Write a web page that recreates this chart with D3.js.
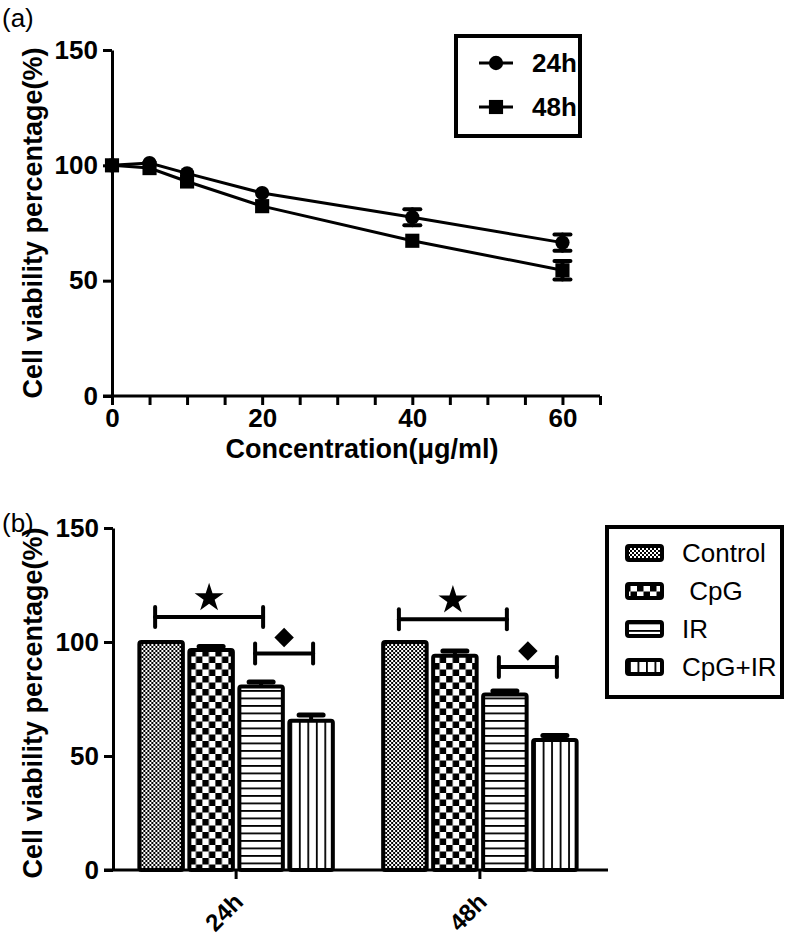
<!DOCTYPE html>
<html>
<head>
<meta charset="utf-8">
<script src="https://cdn.jsdelivr.net/npm/d3@7/dist/d3.min.js"></script>
<style>
  html, body { margin: 0; padding: 0; background: #fff; }
  svg text { font-family: "Liberation Sans", Arial, Helvetica, sans-serif; fill: #000; }
</style>
</head>
<body>
<svg id="chart" width="800" height="937"></svg>
<script>
// ---- panel (a): viability vs concentration ----
const conc   = [0, 5, 10, 20, 40, 60];
const via24  = [100, 101, 96.5, 88, 77.5, 66.5];
const err24  = [0.5, 1, 1, 1, 3.5, 3.5];
const via48  = [100, 98.8, 93, 82.3, 67.3, 54.5];
const err48  = [0.5, 1, 1, 1.5, 1.5, 4];
const seriesA = ['24h', '48h'];

// ---- panel (b): grouped bars ----
const timePoints = ['24h', '48h'];
const treatments = ['Control', 'CpG', 'IR', 'CpG+IR'];
const bars24 = [100, 96.5, 80.5, 65.5];
const errB24 = [0, 1.5, 2, 2.5];
const bars48 = [100, 94, 77, 57];
const errB48 = [0, 2, 1.5, 2];
// significance brackets (y level in data units)
const starLevel    = [111, 110];
const diamondLevel = [95, 89];

const yTicks = [0, 50, 100, 150];

const AX_W = 3;

const svg = d3.select('#chart');
const defs = svg.append('defs');

// fill patterns
function pattern(id, w, h, draw) {
  const p = defs.append('pattern')
    .attr('id', id)
    .attr('patternUnits', 'userSpaceOnUse')
    .attr('width', w).attr('height', h);
  p.append('rect').attr('width', w).attr('height', h).attr('fill', '#fff');
  draw(p);
}
pattern('pControl', 4, 4, p => {
  p.append('rect').attr('width', 2).attr('height', 2).attr('fill', '#000');
  p.append('rect').attr('x', 2).attr('y', 2).attr('width', 2).attr('height', 2).attr('fill', '#000');
});
pattern('pCpG', 13, 13, p => {
  p.append('rect').attr('width', 6.5).attr('height', 6.5).attr('fill', '#000');
  p.append('rect').attr('x', 6.5).attr('y', 6.5).attr('width', 6.5).attr('height', 6.5).attr('fill', '#000');
});
pattern('pIR', 10, 7.5, p => {
  p.append('rect').attr('y', 0).attr('width', 10).attr('height', 1.8).attr('fill', '#000');
});
pattern('pCpGIR', 8.5, 10, p => {
  p.append('rect').attr('x', 0).attr('width', 1.8).attr('height', 10).attr('fill', '#000');
});
const fills = ['url(#pControl)', 'url(#pCpG)', 'url(#pIR)', 'url(#pCpGIR)'];

function styleAxis(g, fontSize) {
  const fs = fontSize || 26;
  g.attr('font-size', fs).attr('font-family', null).attr('font-weight', 'bold');
  g.select('.domain').attr('stroke', '#000').attr('stroke-width', AX_W);
  g.selectAll('.tick line').attr('stroke', '#000').attr('stroke-width', AX_W);
  g.selectAll('.tick text')
    .attr('font-size', fs)
    .attr('font-weight', 'bold')
    .attr('fill', '#000');
}

// ============================================================
// (a) line chart
// ============================================================
const xA = d3.scaleLinear().domain([0, 65]).range([112, 600]);
const yA = d3.scaleLinear().domain([0, 150]).range([396, 50]);

svg.append('text').attr('x', 2).attr('y', 27)
  .attr('font-size', 26).text('(a)');

const gA = svg.append('g');

const yAxA = gA.append('g').attr('transform', `translate(${xA(0)},0)`)
  .call(d3.axisLeft(yA).tickValues(yTicks).tickSize(9).tickSizeOuter(0).tickPadding(5));
styleAxis(yAxA);

const xAxA = gA.append('g').attr('transform', `translate(0,${yA(0)})`)
  .call(d3.axisBottom(xA).tickValues(d3.range(0, 66, 5)).tickSize(9).tickSizeOuter(0).tickPadding(4)
    .tickFormat(d => d % 20 === 0 ? d : ''));
styleAxis(xAxA);
// extend x domain line to the left like the original
xAxA.select('.domain').attr('d', `M${xA(0) - 9},0H${xA(65)}`);

gA.append('text')
  .attr('transform', `translate(42,${(yA(0) + yA(150)) / 2}) rotate(-90)`)
  .attr('text-anchor', 'middle')
  .attr('font-size', 27).attr('font-weight', 'bold')
  .text('Cell viability percentage(%)');

gA.append('text')
  .attr('x', (xA(0) + xA(65)) / 2 + 6).attr('y', 458)
  .attr('text-anchor', 'middle')
  .attr('font-size', 27).attr('font-weight', 'bold')
  .text('Concentration(\u03bcg/ml)');

const line = d3.line().x(d => xA(d.c)).y(d => yA(d.v));
const dataA = [
  conc.map((c, i) => ({ c, v: via24[i], e: err24[i] })),
  conc.map((c, i) => ({ c, v: via48[i], e: err48[i] }))
];
dataA.forEach((pts, si) => {
  gA.append('path').datum(pts)
    .attr('fill', 'none').attr('stroke', '#000').attr('stroke-width', 3)
    .attr('d', line);
  // error bars
  pts.forEach(d => {
    const eb = gA.append('g').attr('stroke', '#000').attr('stroke-width', 4).attr('stroke-linecap', 'round');
    eb.append('line').attr('x1', xA(d.c)).attr('x2', xA(d.c)).attr('y1', yA(d.v - d.e)).attr('y2', yA(d.v + d.e));
    if (d.e > 2) {
      [d.v - d.e, d.v + d.e].forEach(v => {
        eb.append('line').attr('x1', xA(d.c) - 8).attr('x2', xA(d.c) + 8).attr('y1', yA(v)).attr('y2', yA(v));
      });
    }
  });
  const sym = si === 0 ? d3.symbolCircle : d3.symbolSquare;
  gA.selectAll(null).data(pts).join('path')
    .attr('transform', d => `translate(${xA(d.c)},${yA(d.v)})`)
    .attr('d', d3.symbol(sym, si === 0 ? 160 : 200))
    .attr('fill', '#000');
});

// legend (a)
const legA = svg.append('g');
legA.append('rect').attr('x', 456).attr('y', 36).attr('width', 124).attr('height', 100)
  .attr('fill', '#fff').attr('stroke', '#000').attr('stroke-width', 4);
seriesA.forEach((s, i) => {
  const cy = 63 + i * 44;
  legA.append('line').attr('x1', 479).attr('x2', 513).attr('y1', cy).attr('y2', cy)
    .attr('stroke', '#000').attr('stroke-width', 3);
  legA.append('path').attr('transform', `translate(496,${cy})`)
    .attr('d', d3.symbol(i === 0 ? d3.symbolCircle : d3.symbolSquare, i === 0 ? 160 : 200))
    .attr('fill', '#000');
  legA.append('text').attr('x', 532).attr('y', cy + 9)
    .attr('font-size', 26).attr('font-weight', 'bold').text(s);
});

// ============================================================
// (b) grouped bar chart
// ============================================================
const yB = d3.scaleLinear().domain([0, 150]).range([870, 528]);
const x0 = d3.scaleBand().domain(timePoints).range([113, 603]).paddingInner(0.19).paddingOuter(0.1);
const x1 = d3.scaleBand().domain(treatments).range([0, x0.bandwidth()]).paddingInner(0.05);

svg.append('text').attr('x', 2).attr('y', 532)
  .attr('font-size', 26).text('(b)');

const gB = svg.append('g');

const barVals = [bars24, bars48];
const barErrs = [errB24, errB48];
const groups = gB.selectAll('.grp').data(timePoints).join('g')
  .attr('class', 'grp')
  .attr('transform', d => `translate(${x0(d)},0)`);

groups.each(function (t, gi) {
  const g = d3.select(this);
  const rows = treatments.map((k, i) => ({ k, i, v: barVals[gi][i], e: barErrs[gi][i] }));
  // error bars (upper only)
  rows.filter(d => d.e > 0).forEach(d => {
    const cx = x1(d.k) + x1.bandwidth() / 2;
    g.append('line').attr('x1', cx).attr('x2', cx).attr('y1', yB(d.v)).attr('y2', yB(d.v + d.e))
      .attr('stroke', '#000').attr('stroke-width', 4);
    g.append('line').attr('x1', cx - 12).attr('x2', cx + 12).attr('y1', yB(d.v + d.e)).attr('y2', yB(d.v + d.e))
      .attr('stroke', '#000').attr('stroke-width', 5).attr('stroke-linecap', 'round');
  });
  g.selectAll('rect.bar').data(rows).join('rect')
    .attr('class', 'bar')
    .attr('x', d => x1(d.k) + 2)
    .attr('width', x1.bandwidth() - 4)
    .attr('y', d => yB(d.v))
    .attr('height', d => yB(0) - yB(d.v))
    .attr('rx', 2)
    .attr('fill', d => fills[d.i])
    .attr('stroke', '#000').attr('stroke-width', 4);

  // significance brackets
  const cx = k => x1(k) + x1.bandwidth() / 2;
  const bracket = (a, b, lvl) => {
    const yy = yB(lvl);
    const bg = g.append('g').attr('stroke', '#000').attr('stroke-width', 4).attr('stroke-linecap', 'round');
    bg.append('line').attr('x1', cx(a) - 6).attr('x2', cx(b) + 2).attr('y1', yy).attr('y2', yy);
    bg.append('line').attr('x1', cx(a) - 6).attr('x2', cx(a) - 6).attr('y1', yy - 10).attr('y2', yy + 10);
    bg.append('line').attr('x1', cx(b) + 2).attr('x2', cx(b) + 2).attr('y1', yy - 10).attr('y2', yy + 10);
    return [(cx(a) - 6 + cx(b) + 2) / 2, yy];
  };
  const [sx, sy] = bracket('Control', 'IR', starLevel[gi]);
  g.append('path').attr('transform', `translate(${sx},${sy - 19})`)
    .attr('d', d3.symbol(d3.symbolStar, 260)).attr('fill', '#000');
  const [dx, dy] = bracket('IR', 'CpG+IR', diamondLevel[gi]);
  g.append('path').attr('transform', `translate(${dx},${dy - 16}) rotate(45)`)
    .attr('d', d3.symbol(d3.symbolSquare, 190)).attr('fill', '#000');
});

const yAxB = gB.append('g').attr('transform', `translate(113,0)`)
  .call(d3.axisLeft(yB).tickValues(yTicks).tickSize(9).tickSizeOuter(0).tickPadding(5));
styleAxis(yAxB);

const xAxB = gB.append('g').attr('transform', `translate(0,${yB(0)})`)
  .call(d3.axisBottom(x0).tickSize(9).tickSizeOuter(0).tickPadding(6));
styleAxis(xAxB, 24);
xAxB.select('.domain').attr('d', `M${113 - 9},0H608`);
xAxB.selectAll('.tick text')
  .attr('text-anchor', 'end')
  .attr('transform', 'translate(-14,11) rotate(-45)')
  .attr('dy', '0.7em');

gB.append('text')
  .attr('transform', `translate(42,${(yB(0) + yB(150)) / 2 + 4}) rotate(-90)`)
  .attr('text-anchor', 'middle')
  .attr('font-size', 27).attr('font-weight', 'bold')
  .text('Cell viability percentage(%)');

// legend (b)
const legB = svg.append('g');
legB.append('rect').attr('x', 607).attr('y', 527).attr('width', 175).attr('height', 170)
  .attr('fill', '#fff').attr('stroke', '#000').attr('stroke-width', 4);
const legLabels = ['Control', ' CpG', 'IR', 'CpG+IR'];
treatments.forEach((k, i) => {
  const cy = 553 + i * 38;
  legB.append('rect').attr('x', 627).attr('y', cy - 7).attr('width', 35).attr('height', 14)
    .attr('rx', 2)
    .attr('fill', fills[i]).attr('stroke', '#000').attr('stroke-width', 4);
  legB.append('text').attr('x', 682).attr('y', cy + 9)
    .attr('font-size', 26).style('white-space', 'pre')
    .text(legLabels[i]);
});
</script>
</body>
</html>
